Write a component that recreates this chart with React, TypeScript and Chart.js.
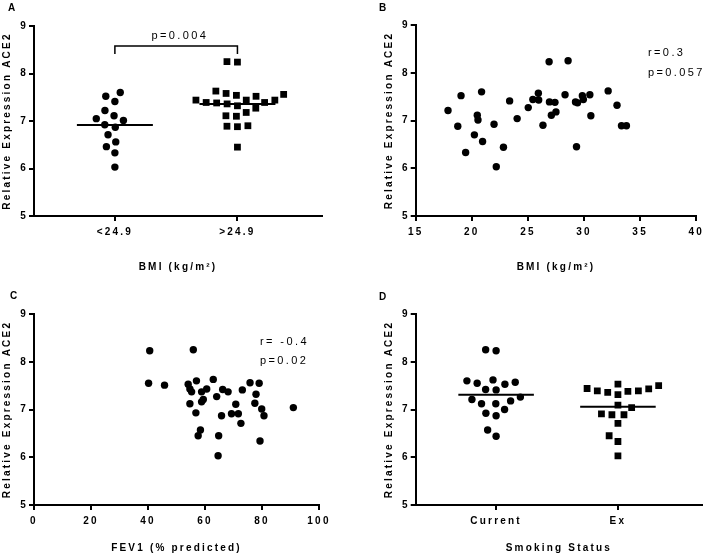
import React, { useEffect, useRef } from "react";
import { Chart, registerables } from "chart.js";

Chart.register(...registerables);

const FONT = "'Liberation Sans', Arial, Helvetica, sans-serif";
const INK = "#000000";

// ---- shared y axis ----
const yAxisTitle = "Relative Expression ACE2";
const yRange = [5, 9];
const yStep = 1;

// ---- Panel A: BMI groups ----
const bmiGroupLabels = ["<24.9", ">24.9"];
const bmiLowExpr = [7.6, 7.52, 7.41, 7.22, 7.05, 7.01, 7.11, 6.92, 6.87, 6.71, 6.56, 6.46, 6.33, 6.03];
const bmiHighExpr = [8.24, 8.25, 7.63, 7.56, 7.52, 7.54, 7.58, 7.39, 7.36, 7.32, 7.44, 7.44, 7.44, 7.39, 7.38, 7.27, 7.18, 7.1, 7.11, 6.89, 6.88, 6.9, 6.45];
const bmiGroupP = "p=0.004";
const bmiBracket = [8.41, 8.58]; // leg end, bar level
const bmiPLevel = 8.79;
const bmiAxisTitle = "BMI (kg/m²)";

// ---- Panel B: BMI vs expression ----
const bmiValues = [17.88, 18.75, 19.04, 19.45, 20.23, 20.49, 20.55, 20.87, 20.96, 21.98, 22.18, 22.82, 23.37, 24.04, 25.03, 25.44, 25.93, 25.96, 26.34, 26.89, 26.92, 27.09, 27.41, 27.5, 28.31, 28.58, 29.24, 29.33, 29.42, 29.85, 29.94, 30.52, 30.61, 32.15, 32.94, 33.34, 33.78];
const bmiExpr = [7.21, 6.88, 7.52, 6.33, 6.7, 7.11, 7.01, 7.6, 6.56, 6.92, 6.03, 6.44, 7.41, 7.04, 7.27, 7.44, 7.57, 7.43, 6.9, 8.23, 7.39, 7.11, 7.38, 7.18, 7.54, 8.25, 7.39, 6.45, 7.37, 7.52, 7.44, 7.54, 7.1, 7.62, 7.32, 6.89, 6.89];
const bmiRange = [15, 40];
const bmiStep = 5;
const bmiStats = ["r=0.3", "p=0.057"];
const bmiStatsAt = [35.7, 8.41, 8.0];

// ---- Panel C: FEV1 vs expression ----
const fev1Values = [40.6, 40.2, 45.8, 55.9, 54.1, 57.0, 62.9, 54.7, 55.3, 58.8, 60.6, 66.2, 68.1, 75.8, 79.0, 73.1, 77.9, 64.1, 59.4, 58.8, 54.7, 70.8, 77.5, 79.9, 91.0, 56.8, 65.8, 69.3, 71.7, 80.7, 72.6, 58.4, 57.6, 64.8, 79.3, 64.6];
const fev1Expr = [8.23, 7.55, 7.51, 8.25, 7.53, 7.6, 7.63, 7.43, 7.37, 7.37, 7.43, 7.42, 7.37, 7.56, 7.55, 7.41, 7.32, 7.27, 7.21, 7.16, 7.12, 7.11, 7.13, 7.01, 7.04, 6.93, 6.87, 6.91, 6.91, 6.87, 6.71, 6.57, 6.45, 6.45, 6.34, 6.03];
const fev1Range = [0, 100];
const fev1Step = 20;
const fev1Stats = ["r= -0.4", "p=0.02"];
const fev1StatsAt = [79.3, 8.41, 8.02];
const fev1AxisTitle = "FEV1 (% predicted)";

// ---- Panel D: smoking status ----
const smokingLabels = ["Current", "Ex"];
const currentExpr = [8.23, 8.25, 7.62, 7.57, 7.53, 7.42, 7.41, 7.55, 7.6, 7.26, 7.18, 7.21, 7.12, 7.12, 7.0, 6.92, 6.87, 6.57, 6.44];
const exExpr = [7.53, 7.44, 7.39, 7.38, 7.31, 7.36, 7.39, 7.43, 7.5, 7.09, 7.04, 6.89, 6.89, 6.91, 6.71, 6.45, 6.33, 6.03];
const smokingAxisTitle = "Smoking Status";

// ---- styling constants ----
const tickFont = { family: FONT, size: 10, weight: "bold" as const };
const titleFont = { family: FONT, size: 10, weight: "bold" as const };
const CIRCLE_R = 3.7;
const SQUARE_R = 4.8;
const SWARM_D = 10.5;
const MEAN_HALF = 0.31;
const CAT_RANGE = [0.34, 2.69];

const mean = (a: number[]) => a.reduce((s, v) => s + v, 0) / a.length;

function swarmOffsets(values: number[], pxPerY: number, d: number): number[] {
  const order = values.map((_, i) => i).sort((a, b) => values[a] - values[b]);
  const placed: { x: number; y: number }[] = [];
  const offs = new Array(values.length).fill(0);
  for (const i of order) {
    const y = values[i] * pxPerY;
    const cands = [0];
    for (const p of placed) {
      const dy = Math.abs(p.y - y);
      if (dy < d) {
        const dx = Math.sqrt(d * d - dy * dy);
        cands.push(p.x + dx, p.x - dx);
      }
    }
    cands.sort((a, b) => Math.abs(a) - Math.abs(b) || a - b);
    for (const c of cands) {
      if (placed.every((p) => (p.x - c) ** 2 + (p.y - y) ** 2 >= d * d - 1e-6)) {
        placed.push({ x: c, y });
        offs[i] = c;
        break;
      }
    }
  }
  return offs;
}

const spacingPlugin = {
  id: "spacing",
  beforeLayout(chart: any) {
    chart.ctx.letterSpacing = "2.2px";
  },
  beforeDraw(chart: any) {
    chart.ctx.letterSpacing = "2.2px";
  },
};

type Note = { text: string; x: number; y: number; align: CanvasTextAlign };

const notesPlugin = {
  id: "notes",
  afterDatasetsDraw(chart: any, _args: any, opts: any) {
    const items: Note[] = (opts && opts.items) || [];
    const ctx = chart.ctx;
    ctx.save();
    ctx.letterSpacing = "2.4px";
    ctx.font = `11px ${FONT}`;
    ctx.fillStyle = INK;
    ctx.textBaseline = "middle";
    for (const n of items) {
      ctx.textAlign = n.align;
      ctx.fillText(n.text, chart.scales.x.getPixelForValue(n.x), chart.scales.y.getPixelForValue(n.y));
    }
    ctx.restore();
  },
};

function yScale(width: number) {
  return {
    type: "linear",
    min: yRange[0],
    max: yRange[1],
    ticks: { stepSize: yStep, color: INK, font: tickFont, padding: 1 },
    grid: { drawOnChartArea: false, color: INK, lineWidth: 2, tickLength: 5 },
    border: { color: INK, width: 2 },
    title: { display: true, text: yAxisTitle, color: INK, font: titleFont, padding: { top: 1.5, bottom: 0 } },
    afterFit: (s: any) => {
      s.width = width;
    },
  };
}

function xScale(o: { min: number; max: number; step?: number; cats?: string[]; title: string; height: number; titlePad: number }) {
  const ticks: any = { color: INK, font: tickFont, padding: 5, autoSkip: false, maxRotation: 0 };
  if (o.step) ticks.stepSize = o.step;
  const sc: any = {
    type: "linear",
    min: o.min,
    max: o.max,
    ticks,
    grid: { drawOnChartArea: false, color: INK, lineWidth: 2, tickLength: 5 },
    border: { color: INK, width: 2 },
    title: { display: true, text: o.title, color: INK, font: titleFont, padding: { top: 0, bottom: o.titlePad } },
    afterFit: (s: any) => {
      s.height = o.height;
    },
  };
  if (o.cats) {
    const cats = o.cats;
    ticks.callback = (v: number) => cats[Math.round(v) - 1] ?? "";
    sc.afterBuildTicks = (s: any) => {
      s.ticks = cats.map((_, i) => ({ value: i + 1 }));
    };
  }
  return sc;
}

function pointsDs(xs: number[], ys: number[], style: string) {
  return {
    type: "scatter",
    data: ys.map((y, i) => ({ x: xs[i], y })),
    pointStyle: style,
    pointRadius: style === "rect" ? SQUARE_R : CIRCLE_R,
    pointHoverRadius: style === "rect" ? SQUARE_R : CIRCLE_R,
    pointBackgroundColor: INK,
    pointBorderWidth: 0,
    borderWidth: 0,
    showLine: false,
  };
}

function lineDs(pts: { x: number; y: number }[], width: number) {
  return {
    type: "scatter",
    data: pts,
    showLine: true,
    borderColor: INK,
    borderWidth: width,
    pointRadius: 0,
    pointHoverRadius: 0,
    fill: false,
    tension: 0,
  };
}

function groupPanel(canvas: HTMLCanvasElement, cfg: { a: number[]; b: number[]; labels: string[]; title: string; padLeft: number; padTop: number; padRight: number; xHeight: number; titlePad: number; extra?: any[]; notes?: Note[] }) {
  const datasets: any[] = [
    pointsDs(cfg.a.map(() => 1), cfg.a, "circle"),
    pointsDs(cfg.b.map(() => 2), cfg.b, "rect"),
    lineDs([{ x: 1 - MEAN_HALF, y: mean(cfg.a) }, { x: 1 + MEAN_HALF, y: mean(cfg.a) }], 2),
    lineDs([{ x: 2 - MEAN_HALF, y: mean(cfg.b) }, { x: 2 + MEAN_HALF, y: mean(cfg.b) }], 2),
    ...(cfg.extra || []),
  ];
  const chart = new Chart(canvas, {
    type: "scatter",
    data: { datasets },
    options: {
      responsive: false,
      animation: false,
      events: [],
      layout: { padding: { left: cfg.padLeft, top: cfg.padTop, right: cfg.padRight, bottom: 0 } },
      plugins: { legend: { display: false }, tooltip: { enabled: false }, notes: { items: cfg.notes || [] } } as any,
      scales: {
        x: xScale({ min: CAT_RANGE[0], max: CAT_RANGE[1], cats: cfg.labels, title: cfg.title, height: cfg.xHeight, titlePad: cfg.titlePad }) as any,
        y: yScale(34) as any,
      },
    } as any,
    plugins: [spacingPlugin, notesPlugin],
  } as any);
  const xs = chart.scales.x;
  const ys = chart.scales.y;
  const pxY = Math.abs(ys.getPixelForValue(1) - ys.getPixelForValue(0));
  const pxX = Math.abs(xs.getPixelForValue(1) - xs.getPixelForValue(0));
  [cfg.a, cfg.b].forEach((vals, k) => {
    const offs = swarmOffsets(vals, pxY, SWARM_D);
    chart.data.datasets[k].data = vals.map((v, i) => ({ x: k + 1 + offs[i] / pxX, y: v })) as any;
  });
  chart.update();
  return chart;
}

function scatterPanel(canvas: HTMLCanvasElement, cfg: { xv: number[]; yv: number[]; range: number[]; step: number; title: string; padLeft: number; padTop: number; padRight: number; xHeight: number; titlePad: number; notes: Note[] }) {
  return new Chart(canvas, {
    type: "scatter",
    data: { datasets: [pointsDs(cfg.xv, cfg.yv, "circle")] as any },
    options: {
      responsive: false,
      animation: false,
      events: [],
      layout: { padding: { left: cfg.padLeft, top: cfg.padTop, right: cfg.padRight, bottom: 0 } },
      plugins: { legend: { display: false }, tooltip: { enabled: false }, notes: { items: cfg.notes } } as any,
      scales: {
        x: xScale({ min: cfg.range[0], max: cfg.range[1], step: cfg.step, title: cfg.title, height: cfg.xHeight, titlePad: cfg.titlePad }) as any,
        y: yScale(34) as any,
      },
    } as any,
    plugins: [spacingPlugin, notesPlugin],
  } as any);
}

function Panel(props: { left: number; top: number; width: number; height: number; build: (c: HTMLCanvasElement) => Chart }) {
  const ref = useRef<HTMLCanvasElement>(null);
  useEffect(() => {
    const chart = props.build(ref.current!);
    return () => chart.destroy();
  }, []);
  return (
    <canvas
      ref={ref}
      width={props.width}
      height={props.height}
      style={{ position: "absolute", left: props.left, top: props.top, width: props.width, height: props.height }}
    />
  );
}

const letterStyle: React.CSSProperties = {
  position: "absolute",
  fontFamily: FONT,
  fontWeight: "bold",
  fontSize: 10,
  lineHeight: "12px",
  color: INK,
};

export default function App() {
  return (
    <div style={{ position: "absolute", left: 0, top: 0, width: 709, height: 558, background: "#fff", overflow: "hidden" }}>
      <Panel
        left={0}
        top={0}
        width={350}
        height={280}
        build={(c) =>
          groupPanel(c, {
            a: bmiLowExpr,
            b: bmiHighExpr,
            labels: bmiGroupLabels,
            title: bmiAxisTitle,
            padLeft: 0,
            padTop: 26,
            padRight: 28,
            xHeight: 64,
            titlePad: 7,
            extra: [
              lineDs(
                [
                  { x: 1, y: bmiBracket[0] },
                  { x: 1, y: bmiBracket[1] },
                  { x: 2, y: bmiBracket[1] },
                  { x: 2, y: bmiBracket[0] },
                ],
                1.5
              ),
            ],
            notes: [{ text: bmiGroupP, x: 1.53, y: bmiPLevel, align: "center" }],
          })
        }
      />
      <Panel
        left={350}
        top={0}
        width={359}
        height={280}
        build={(c) =>
          scatterPanel(c, {
            xv: bmiValues,
            yv: bmiExpr,
            range: bmiRange,
            step: bmiStep,
            title: bmiAxisTitle,
            padLeft: 31.7,
            padTop: 25,
            padRight: 7,
            xHeight: 64,
            titlePad: 7,
            notes: [
              { text: bmiStats[0], x: bmiStatsAt[0], y: bmiStatsAt[1], align: "left" },
              { text: bmiStats[1], x: bmiStatsAt[0], y: bmiStatsAt[2], align: "left" },
            ],
          })
        }
      />
      <Panel
        left={0}
        top={280}
        width={350}
        height={278}
        build={(c) =>
          scatterPanel(c, {
            xv: fev1Values,
            yv: fev1Expr,
            range: fev1Range,
            step: fev1Step,
            title: fev1AxisTitle,
            padLeft: 0,
            padTop: 34,
            padRight: 31,
            xHeight: 53,
            titlePad: 4,
            notes: [
              { text: fev1Stats[0], x: fev1StatsAt[0], y: fev1StatsAt[1], align: "left" },
              { text: fev1Stats[1], x: fev1StatsAt[0], y: fev1StatsAt[2], align: "left" },
            ],
          })
        }
      />
      <Panel
        left={350}
        top={280}
        width={359}
        height={278}
        build={(c) =>
          groupPanel(c, {
            a: currentExpr,
            b: exExpr,
            labels: smokingLabels,
            title: smokingAxisTitle,
            padLeft: 31.7,
            padTop: 34,
            padRight: 7,
            xHeight: 53,
            titlePad: 4,
          })
        }
      />
      <div style={{ ...letterStyle, left: 8, top: 2 }}>A</div>
      <div style={{ ...letterStyle, left: 379, top: 2 }}>B</div>
      <div style={{ ...letterStyle, left: 10, top: 290 }}>C</div>
      <div style={{ ...letterStyle, left: 379, top: 291 }}>D</div>
    </div>
  );
}
